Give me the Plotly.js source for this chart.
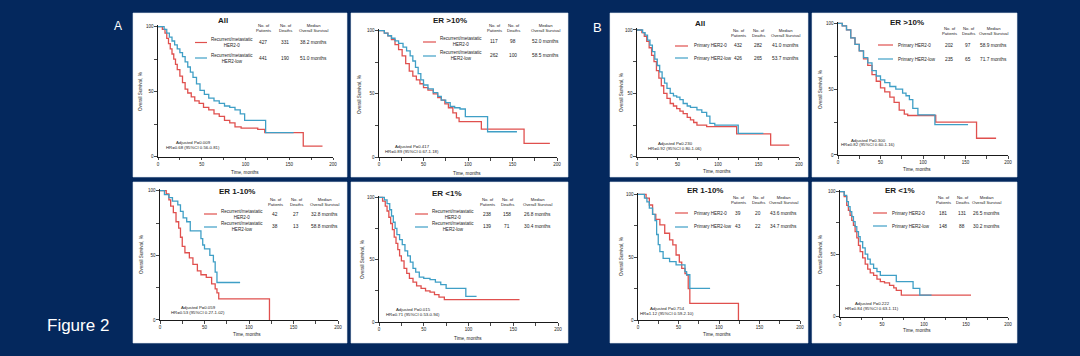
<!DOCTYPE html>
<html><head><meta charset="utf-8">
<script src="https://cdn.plot.ly/plotly-3.0.1.min.js"></script>
<style>html,body{margin:0;padding:0;background:#03265a;}#chart{width:1080px;height:356px;}</style>
</head><body><div id="chart"></div>
<script>
// ---------- DATA ----------
const panelTitles = ['All','ER >10%','ER 1-10%','ER <1%','All','ER >10%','ER 1-10%','ER <1%'];
const groupALabels = ['Recurrent/metastatic<br>HER2-0','Recurrent/metastatic<br>HER2-low'];
const groupBLabels = ['Primary HER2-0','Primary HER2-low'];
const headerLabels = ['No. of<br>Patients','No. of<br>Deaths','Median<br>Overall Survival'];
const patients0   = ['427','117','42','238','432','202','39','181'];
const patientsLow = ['441','262','38','139','426','235','43','148'];
const deaths0     = ['331','98','27','158','282','97','20','131'];
const deathsLow   = ['190','100','13','71','265','65','22','88'];
const median0     = ['38.2 months','52.0 months','32.8 months','26.8 months','41.0 months','58.9 months','43.6 months','26.5 months'];
const medianLow   = ['51.0 months','58.5 months','58.8 months','30.4 months','53.7 months','71.7 months','34.7 months','30.2 months'];
const pTexts  = ['Adjusted P=0.009','Adjusted P=0.417','Adjusted P=0.059','Adjusted P=0.015','Adjusted P=0.230','Adjusted P=0.300','Adjusted P=0.754','Adjusted P=0.222'];
const hrTexts = ['HR=0.68 (95%CI 0.56-0.81)','HR=0.89 (95%CI 0.67-1.18)','HR=0.53 (95%CI 0.27-1.02)','HR=0.71 (95%CI 0.53-0.94)','HR=0.92 (95%CI 0.80-1.06)','HR=0.82 (95%CI 0.60-1.16)','HR=1.12 (95%CI 0.59-2.10)','HR=0.84 (95%CI 0.63-1.11)'];
const xTickVals = [0,25,50,75,100,125,150,175,200];
const xTickText = ['0','','50','','100','','150','','200'];
const yTickVals = [0,25,50,75,100];
const yTickText = ['0','','50','','100'];

// A: recurrent/metastatic
const aAll0_t = [0,5,8,10,12,14,16,18,20,22,25,28,31,34,38,42,47,52,58,64,70,76,82,88,95,114,122,166,188];
const aAll0_s = [100,98,95,91,87,83,79,75,71,67,62,57,52,49,46,43,41,38,36,33,31,28,26,23,22,21,18.5,8.2,8.2];
const aAllL_t = [0,7,10,13,16,19,22,25,28,31,34,37,40,44,48,53,58,64,70,76,82,88,94,99,123,155];
const aAllL_s = [100,98,95,92,89,86,83,80,77,73,69,65,61,56,51,48,45,43,41,39,38,36,33,28,18.5,18.5];
const aHi0_t = [0,6,10,14,18,22,26,30,34,38,42,46,50,55,61,66,70,74,78,83,87,90,115,163,192];
const aHi0_s = [100,98,96,93,89,85,80,74,68,64,61,58,55,53,50,47,45,42,39,35,31,28,22,10.8,10.8];
const aHiL_t = [0,6,10,14,18,22,27,31,35,38,41,44,47,50,55,61,66,70,75,80,85,91,97,122,155];
const aHiL_s = [100,98,96,94,92,90,87,84,80,76,71,66,61,57,54,51,48,45,43,40,39,38,32,20,20];
const aMid0_t = [0,7,10,12,15,18,21,23,25,28,33,37,42,46,52,58,62,64,66,123];
const aMid0_s = [100,97.6,92.9,88,83,76,71,64,57,52,48,43,38,35,33,28,24,21,16.3,0];
const aMidL_t = [0,5,10,14,20,23,26,30,34,46,48,50,56,60,62,64,90];
const aMidL_s = [100,97,94.7,92,89,84,79,76,69,63,58,55,50,45,37,29,29];
const aLo0_t = [0,4,7,9,11,13,15,17,19,21,23,25,28,31,34,38,42,47,52,57,62,67,73,157];
const aLo0_s = [100,97,93,89,84,79,74,68,63,58,53,49,43,39,35,32,29,27,25,24,22,20,18,18];
const aLoL_t = [0,6,9,12,14,16,18,20,23,26,29,32,35,38,41,45,50,57,63,69,75,97,109];
const aLoL_s = [100,98,95,90,85,80,75,70,66,62,57,53,48,43,40,36,35,34,32,30,27,20.5,20.5];
// B: primary
const bAll0_t = [0,6,9,12,15,18,21,24,27,30,33,37,41,45,49,53,57,62,66,70,74,86,123,165,188];
const bAll0_s = [100,98,95,91,86,80,75,68,62,56,50,46,42,40,38,36,34,31,29,27,25,23.7,18,9.2,9.2];
const bAllL_t = [0,7,10,13,16,19,22,25,28,31,34,37,41,45,49,53,57,62,66,74,80,86,90,96,125,156];
const bAllL_s = [100,98,96,92,88,83,77,72,67,62,58,54,50,48,47,45,42,40,39,37,35,32,26.3,25,18.4,18.4];
const bHi0_t = [0,5,10,15,20,25,30,35,40,45,50,55,61,66,72,78,82,115,163,186];
const bHi0_s = [100,98,95,89,84,79,73,68,61,56,51,48,44,40,34,31,30,25,12.7,12.7];
const bHiL_t = [0,5,10,15,20,25,30,35,40,45,50,55,61,68,76,80,84,88,94,114,153];
const bHiL_s = [100,98,95,89,84,79,74,70,64,60,57,55,52,50,47,45,42,35.4,30.4,23,23];
const bMid0_t = [0,10,14,18,22,27,33,39,43,47,51,54,58,60,62,64,124];
const bMid0_s = [100,97,91.5,84,80,75.6,69,63.7,59.7,51.7,46,41,37,35.8,25,13.3,0];
const bMidL_t = [0,8,11,14,18,21,23,25,27,31,39,47,58,60,64,89];
const bMidL_s = [100,97,94,89,84,79,68,60,54.4,49,46.4,43.8,38.5,36,25.2,25.2];
const bLo0_t = [0,5,8,10,12,14,16,18,20,22,24,27,30,33,36,40,44,48,53,59,64,67,73,156];
const bLo0_s = [100,96,89,85,81,77,73,68,63,57,52,47,42,38,35,33,30,28,27,25,23,21,17.3,17.3];
const bLoL_t = [0,5,8,10,12,14,16,18,20,22,24,27,30,33,36,40,44,48,61,67,81,87,95,109];
const bLoL_s = [100,97,92,88,84,80,76,72,68,64,60,55,50,46,42,38.7,36,33,33,28,28,22.7,17.3,17.3];

const series0 = [[aAll0_t,aAll0_s],[aHi0_t,aHi0_s],[aMid0_t,aMid0_s],[aLo0_t,aLo0_s],[bAll0_t,bAll0_s],[bHi0_t,bHi0_s],[bMid0_t,bMid0_s],[bLo0_t,bLo0_s]];
const seriesL = [[aAllL_t,aAllL_s],[aHiL_t,aHiL_s],[aMidL_t,aMidL_s],[aLoL_t,aLoL_s],[bAllL_t,bAllL_s],[bHiL_t,bHiL_s],[bMidL_t,bMidL_s],[bLoL_t,bLoL_s]];

// ---------- LAYOUT (pixel positions) ----------
const W = 1080, H = 356;
const NAVY = '#04285d', RED = '#e0504e', BLUE = '#3f9fc6', INK = '#1a1a1a';
const FONT = 'Liberation Sans, Arial, sans-serif';
const panels = [
 {box:[133,13,347,177], plot:[158,333,26.7,156.7], title:[223,20], hx:[263,285,313], hy:28, r:[42.5,58], ln:[195,207], lab:209, pt:[193,142], yt:[141,92], xt:[245,172]},
 {box:[351,13,568,177], plot:[379,557,30.7,157], title:[450,20], hx:[494,513,545], hy:28, r:[42,56], ln:[423,436], lab:438, pt:[412,146], yt:[360,95], xt:[467,173]},
 {box:[133,182,347,343], plot:[160,338,190.7,320], title:[237,191], hx:[275,296,324], hy:202, r:[214,227], ln:[204,217], lab:219, pt:[198,307], yt:[141,255], xt:[247,334]},
 {box:[351,182,568,343], plot:[379,558,197.3,322], title:[447,193], hx:[487,507,537], hy:202, r:[214,227], ln:[415,428], lab:430, pt:[413,309], yt:[362,260], xt:[468,338]},
 {box:[610,13,808,177], plot:[637,799,30,156.7], title:[700,24], hx:[738,758,785], hy:33, r:[46,58], ln:[675,688], lab:692, pt:[675,143], yt:[621,93], xt:[717,171]},
 {box:[812,13,1017,177], plot:[838,1008,23.3,155], title:[907,23], hx:[949,968,993], hy:31, r:[45,59], ln:[878,893], lab:896, pt:[868,140], yt:[820,90], xt:[917,169]},
 {box:[610,182,808,343], plot:[638,800,194.3,320], title:[705,190], hx:[738,758,783], hy:200, r:[213,227], ln:[675,688], lab:692, pt:[667,308], yt:[621,257], xt:[717,334]},
 {box:[812,182,1017,343], plot:[840,1008,191.7,316.7], title:[900,190], hx:[943,962,986], hy:200, r:[213,226], ln:[873,887], lab:890, pt:[872,303], yt:[820,255], xt:[917,330]}
];

const fx = x => x / W, fy = y => 1 - y / H;
function ann(x, y, text, size, extra) {
  return Object.assign({xref:'paper', yref:'paper', x:fx(x), y:fy(y), text:text, showarrow:false,
    font:{family:FONT, size:size, color:INK}, xanchor:'center', yanchor:'middle'}, extra || {});
}

const traces = [];
const layout = {
  width:W, height:H, margin:{l:0,r:0,t:0,b:0},
  paper_bgcolor:NAVY, plot_bgcolor:'rgba(0,0,0,0)', showlegend:false,
  font:{family:FONT, color:INK}, shapes:[], annotations:[]
};

panels.forEach((p, i) => {
  const sfx = i === 0 ? '' : String(i + 1);
  const [x0, x200, y100, y0] = p.plot;
  const topPad = 0.012 * (y0 - y100);
  layout['xaxis' + sfx] = {
    domain:[fx(x0), fx(x200)], range:[0,200], anchor:'y' + sfx, fixedrange:true,
    showgrid:false, zeroline:false, showline:true, linecolor:INK, linewidth:1.2,
    ticks:'outside', ticklen:2.5, tickwidth:0.8, tickcolor:INK,
    tickvals:xTickVals, ticktext:xTickText, tickfont:{family:FONT, size:4.5, color:INK}
  };
  layout['yaxis' + sfx] = {
    domain:[fy(y0), fy(y100 - topPad)], range:[0,101.2], anchor:'x' + sfx, fixedrange:true,
    showgrid:false, zeroline:false, showline:true, linecolor:INK, linewidth:1.2,
    ticks:'outside', ticklen:2.5, tickwidth:0.8, tickcolor:INK,
    tickvals:yTickVals, ticktext:yTickText, tickfont:{family:FONT, size:4.5, color:INK}
  };
  layout.shapes.push({type:'rect', xref:'paper', yref:'paper', layer:'below',
    x0:fx(p.box[0]), x1:fx(p.box[2]), y0:fy(p.box[3]), y1:fy(p.box[1]),
    fillcolor:'#ffffff', line:{color:'#dfe6ef', width:0.6}});
  [[series0[i], RED], [seriesL[i], BLUE]].forEach(([sr, col]) => {
    traces.push({type:'scatter', mode:'lines', x:sr[0], y:sr[1], xaxis:'x' + sfx, yaxis:'y' + sfx,
      line:{shape:'hv', color:col, width:1.3}, hoverinfo:'skip'});
  });
  [[p.r[0], RED], [p.r[1], BLUE]].forEach(([yy, col]) => {
    layout.shapes.push({type:'line', xref:'paper', yref:'paper', x0:fx(p.ln[0]), x1:fx(p.ln[1]),
      y0:fy(yy), y1:fy(yy), line:{color:col, width:1.2}});
  });
  const A = layout.annotations;
  A.push(ann(p.title[0], p.title[1], '<b>' + panelTitles[i] + '</b>', 8));
  headerLabels.forEach((h, k) => A.push(ann(p.hx[k], p.hy, h, 4.2)));
  const labels = i < 4 ? groupALabels : groupBLabels;
  A.push(ann(p.lab, p.r[0], labels[0], 4.5, {xanchor:'left'}));
  A.push(ann(p.lab, p.r[1], labels[1], 4.5, {xanchor:'left'}));
  A.push(ann(p.hx[0], p.r[0], patients0[i], 4.8));
  A.push(ann(p.hx[1], p.r[0], deaths0[i], 4.8));
  A.push(ann(p.hx[2], p.r[0], median0[i], 4.8));
  A.push(ann(p.hx[0], p.r[1], patientsLow[i], 4.8));
  A.push(ann(p.hx[1], p.r[1], deathsLow[i], 4.8));
  A.push(ann(p.hx[2], p.r[1], medianLow[i], 4.8));
  A.push(ann(p.pt[0], p.pt[1], pTexts[i], 4.3));
  A.push(ann(p.pt[0], p.pt[1] + 5, hrTexts[i], 4.3));
  A.push(ann(p.yt[0], p.yt[1], 'Overall Survival, %', 4.6, {textangle:-90}));
  A.push(ann(p.xt[0], p.xt[1], 'Time, months', 4.6));
});

layout.annotations.push(ann(118, 26, 'A', 12, {font:{family:FONT, size:12, color:'#ffffff'}}));
layout.annotations.push(ann(597, 27, 'B', 13, {font:{family:FONT, size:13, color:'#ffffff'}}));
layout.annotations.push(ann(78, 325, 'Figure 2', 17, {font:{family:FONT, size:17, color:'#ffffff'}}));

Plotly.newPlot('chart', traces, layout, {staticPlot:true, displayModeBar:false});
</script></body></html>
